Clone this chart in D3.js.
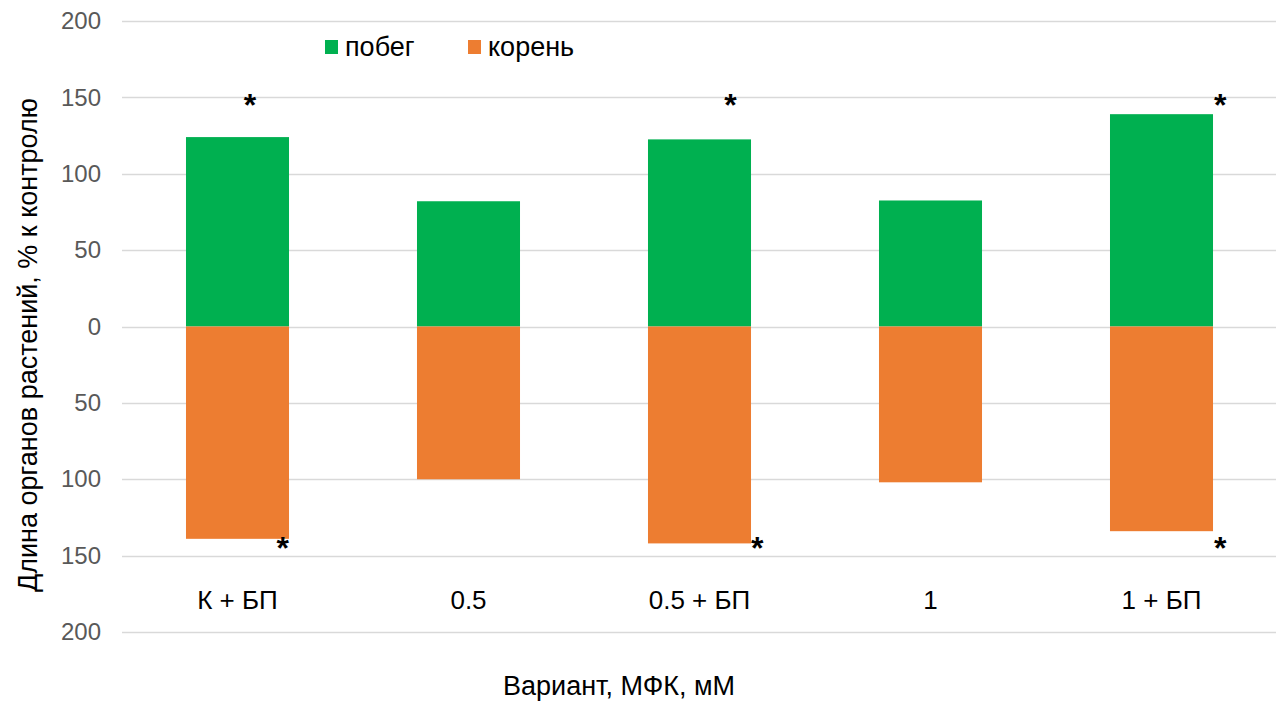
<!DOCTYPE html>
<html><head><meta charset="utf-8">
<script src="https://cdn.jsdelivr.net/npm/d3@7"></script>
<style>body{margin:0;background:#fff;}svg{display:block;font-family:"Liberation Sans",Arial,sans-serif;}</style>
</head><body>
<svg id="c" width="1276" height="703"></svg>
<script>
const categories = ["К + БП", "0.5", "0.5 + БП", "1", "1 + БП"];
const shoot = [124, 82, 122.5, 82.5, 139];      // побег
const root = [139, 100, 142, 102, 134];          // корень (drawn downward)
const shootStar = [true, false, true, false, true];
const rootStar = [true, false, true, false, true];
const yTicks = [-200, -150, -100, -50, 0, 50, 100, 150, 200];
const seriesNames = ["побег", "корень"];
const colors = ["#00B050", "#ED7D31"];
// asterisk horizontal offsets within band (fraction of bandwidth)
const shootStarOff = [0.62, 0, 0.80, 0, 1.07];
const rootStarOff = [0.94, 0, 1.06, 0, 1.07];

const svg = d3.select("#c");
const y = d3.scaleLinear().domain([-200, 200]).range([632, 21]);
const x = d3.scaleBand().domain(categories).range([122, 1277]).paddingInner(0.554).paddingOuter(0.277);

// gridlines
svg.append("g").selectAll("line").data(yTicks).join("line")
  .attr("x1", 122).attr("x2", 1276)
  .attr("y1", d => Math.round(y(d)) + 0.5).attr("y2", d => Math.round(y(d)) + 0.5)
  .attr("stroke", "#d9d9d9").attr("stroke-width", 1.3);

// y axis labels
const yAxis = d3.axisLeft(y).tickValues(yTicks).tickSize(0).tickPadding(0).tickFormat(d => Math.abs(d));
const ya = svg.append("g").attr("transform", "translate(101,0)").call(yAxis);
ya.select(".domain").remove();
ya.selectAll("text").attr("fill", "#595959").style("font-size", "24px").style("font-family", "'Liberation Sans',Arial,sans-serif");

// bars
svg.append("g").selectAll("rect").data(categories).join("rect")
  .attr("x", d => x(d)).attr("width", x.bandwidth())
  .attr("y", (d, i) => y(shoot[i])).attr("height", (d, i) => y(0) - y(shoot[i]))
  .attr("fill", colors[0]);
svg.append("g").selectAll("rect").data(categories).join("rect")
  .attr("x", d => x(d)).attr("width", x.bandwidth())
  .attr("y", y(0)).attr("height", (d, i) => y(-root[i]) - y(0))
  .attr("fill", colors[1]);

// asterisks
const starG = svg.append("g").style("font-size", "32px").style("font-weight", "bold").attr("fill", "#000").attr("text-anchor", "middle");
categories.forEach((c, i) => {
  if (shootStar[i]) starG.append("text").attr("x", x(c) + x.bandwidth() * shootStarOff[i]).attr("y", y(146) + 13).text("*");
  if (rootStar[i]) starG.append("text").attr("x", x(c) + x.bandwidth() * rootStarOff[i]).attr("y", y(-143) + 14).text("*");
});

// category labels
svg.append("g").selectAll("text").data(categories).join("text")
  .attr("x", d => x(d) + x.bandwidth() / 2).attr("y", 609)
  .attr("text-anchor", "middle").style("font-size", "26px").attr("fill", "#000")
  .text(d => d);

// axis titles
svg.append("text").attr("transform", "translate(37,345) rotate(-90)").attr("text-anchor", "middle")
  .style("font-size", "27px").attr("fill", "#000").text("Длина органов растений, % к контролю");
svg.append("text").attr("x", 619).attr("y", 695).attr("text-anchor", "middle")
  .style("font-size", "27px").attr("fill", "#000").text("Вариант, МФК, мМ");

// legend
const leg = svg.append("g");
const legX = [325, 468];
seriesNames.forEach((n, i) => {
  leg.append("rect").attr("x", legX[i]).attr("y", 40).attr("width", 13).attr("height", 14).attr("fill", colors[i]);
  leg.append("text").attr("x", legX[i] + 20).attr("y", 56).style("font-size", "27px").attr("fill", "#000").text(n);
});
</script>
</body></html>
